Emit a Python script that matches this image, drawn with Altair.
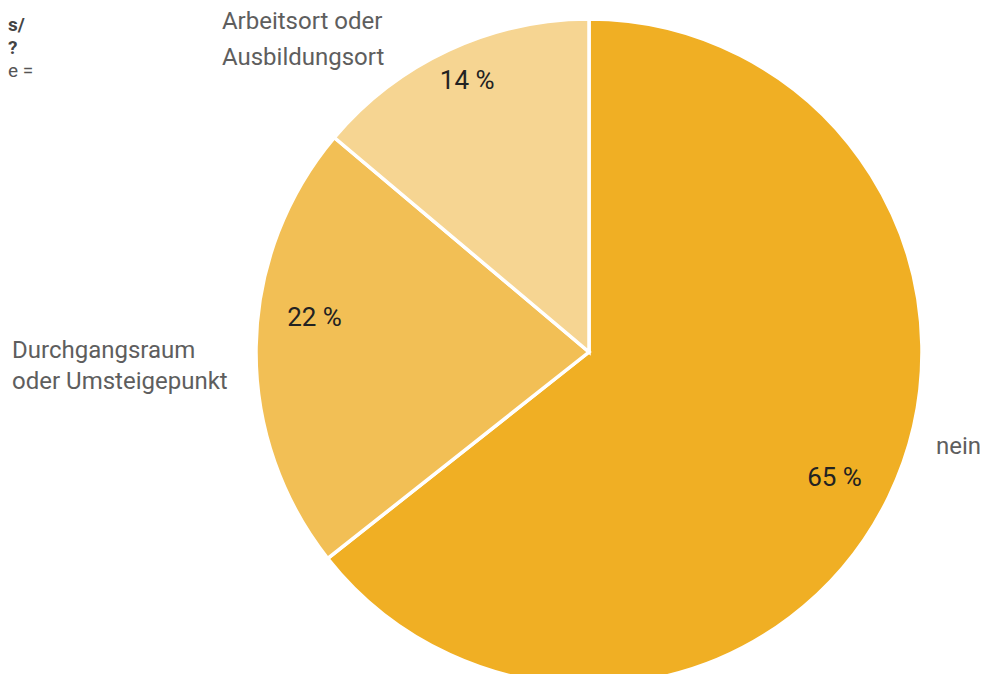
import altair as alt
import pandas as pd

# Data
kategorien = ["nein", "Durchgangsraum oder Umsteigepunkt", "Arbeitsort oder Ausbildungsort"]
werte = [65, 22, 14]
reihenfolge = [1, 2, 3]
prozent_text = ["65 %", "22 %", "14 %"]
farben = ["#F0AF24", "#F2BF55", "#F6D592"]

df = pd.DataFrame({
    "kat": kategorien,
    "wert": werte,
    "ord": reihenfolge,
    "txt": prozent_text,
})
total = sum(werte)

CX, CY, R = 581, 344, 333
FONT = "Roboto"

base = alt.Chart(df)

pie = base.mark_arc(outerRadius=R, stroke="white", strokeWidth=3.5).encode(
    theta=alt.Theta("wert:Q", stack=True, scale=alt.Scale(domain=[0, total])),
    order=alt.Order("ord:Q"),
    color=alt.Color("kat:N", scale=alt.Scale(domain=kategorien, range=farben), legend=None),
    x=alt.value(CX),
    y=alt.value(CY),
)

mid = base.transform_window(
    cum="sum(wert)", sort=[alt.SortField("ord")], frame=[None, 0]
).transform_calculate(mid="datum.cum - datum.wert / 2")


def pct_layer(kat, dx, dy):
    return mid.transform_filter(alt.datum.kat == kat).mark_text(
        radius=280, dx=dx, dy=dy, align="center", baseline="alphabetic",
        font=FONT, fontSize=26, color="#222222",
    ).encode(
        theta=alt.Theta("mid:Q", scale=alt.Scale(domain=[0, total])),
        text="txt:N",
        x=alt.value(CX),
        y=alt.value(CY),
    )


def cat_layer(kat, lines, dx, dy, lh):
    return mid.transform_filter(alt.datum.kat == kat).transform_calculate(
        lab="'" + "\\n".join(lines) + "'"
    ).mark_text(
        radius=R, dx=dx, dy=dy, align="left", baseline="alphabetic",
        font=FONT, fontSize=24, color="#5E5E5E", lineBreak="\n", lineHeight=lh,
    ).encode(
        theta=alt.Theta("mid:Q", scale=alt.Scale(domain=[0, total])),
        text="lab:N",
        x=alt.value(CX),
        y=alt.value(CY),
    )


p1 = pct_layer(kategorien[0], -6.5, 11.8)
p2 = pct_layer(kategorien[1], 5.5, -21.6)
p3 = pct_layer(kategorien[2], -3.7, -9.2)

c1 = cat_layer(kategorien[0], ["nein"], 47.3, -43, 31)
c2 = cat_layer(kategorien[1], ["Durchgangsraum", "oder Umsteigepunkt"], -244, 11, 31)
c3 = cat_layer(kategorien[2], ["Arbeitsort oder", "Ausbildungsort"], -226.6, -21.2, 36)

# cropped title fragments at the top-left edge
frag_text = ["s/", "?", "e ="]
frag_bold = ["bold", "bold", "normal"]
frag_color = ["#444444", "#444444", "#555555"]
frag_df = pd.DataFrame({"t": frag_text, "w": frag_bold, "i": [0, 1, 2]})
frags = []
for t, w, c, dyv in zip(frag_text, frag_bold, frag_color, [23, 46, 69]):
    frags.append(
        alt.Chart(frag_df).transform_filter(alt.datum.t == t).mark_text(
            align="left", baseline="alphabetic", font=FONT, fontSize=19,
            fontWeight=w, color=c, dx=0, dy=dyv,
        ).encode(text="t:N", x=alt.value(0), y=alt.value(0))
    )

chart = alt.layer(pie, p1, p2, p3, c1, c2, c3, *frags).resolve_scale(
    theta="independent"
).properties(
    width=972, height=666, padding=0, autosize=alt.AutoSizeParams(type="none")
).configure_view(stroke=None)

chart.save("out.html", embed_options={"renderer": "svg", "actions": False})
